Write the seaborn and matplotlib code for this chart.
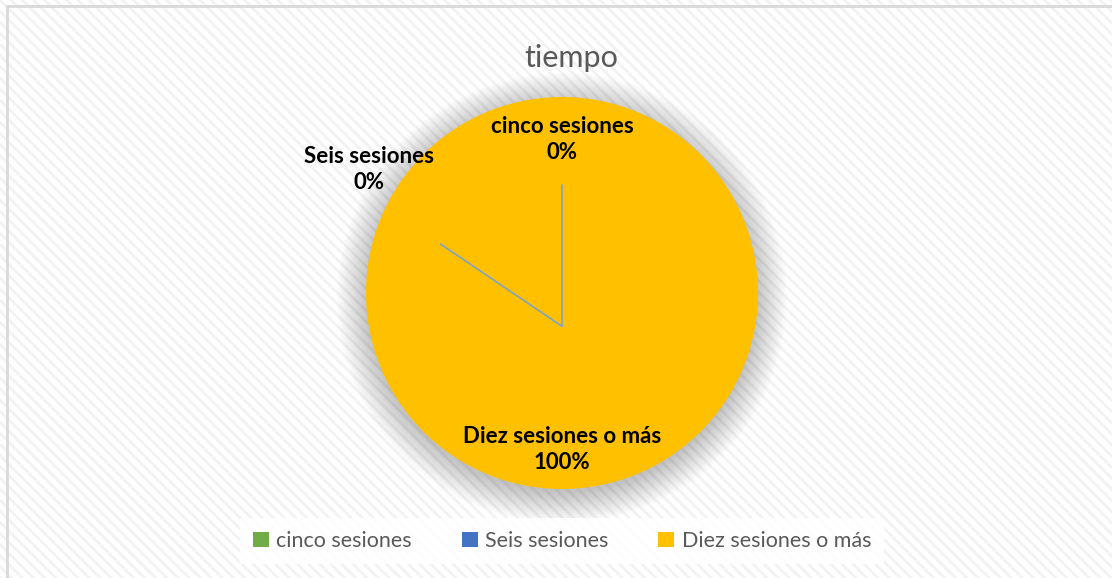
import matplotlib
matplotlib.use("Agg")
import matplotlib.pyplot as plt
from matplotlib.patches import Rectangle, Circle, Patch
import seaborn as sns

# Chart data
categories = ["cinco sesiones", "Seis sesiones", "Diez sesiones o más"]
values = [0, 0, 100]
colors = ["#70AD47", "#4472C4", "#FFC000"]
title = "tiempo"

sns.set_theme(style="white")
plt.rcParams["font.family"] = ["Lato", "DejaVu Sans"]
plt.rcParams["hatch.linewidth"] = 2.0

fig = plt.figure(figsize=(11.12, 5.78), dpi=100)

# hatched chart-area background with thin gray frame (top/left visible)
bg = Rectangle((0, 0), 1, 1, transform=fig.transFigure, facecolor="white",
               edgecolor="#f2f2f2", hatch="\\\\\\", linewidth=0, zorder=-10)
fig.patches.append(bg)
frame = Rectangle((7 / 1112, -0.1), 1.2, 1 - 6 / 578 + 0.1, transform=fig.transFigure,
                  facecolor="none", edgecolor="#d9d9d9", linewidth=2, zorder=-5)
fig.patches.append(frame)

# pie axes: center (562, 293), radius 196 px
r_px = 196
ax = fig.add_axes([(562 - r_px) / 1112, (578 - 293 - r_px) / 578,
                   2 * r_px / 1112, 2 * r_px / 578])

# soft shadow
for k in range(30):
    ax.add_patch(Circle((0, -0.025), 0.99 + 0.0055 * k, facecolor="#808080",
                        alpha=0.016, edgecolor="none", zorder=0, clip_on=False))

wedges, _ = ax.pie(values, colors=colors, startangle=90, counterclock=False,
                   radius=1, wedgeprops=dict(linewidth=0))
for w in wedges:
    w.set_zorder(2)
ax.set_xlim(-1, 1)
ax.set_ylim(-1, 1)
ax.set_aspect("equal")
ax.axis("off")
ax.patch.set_alpha(0)

# leader lines
lc = "#7fa3c8"
ax.plot([0, 0], [-0.17, 0.55], color=lc, lw=1.2, zorder=3, clip_on=False)
ax.plot([0, -0.62], [-0.17, 0.25], color=lc, lw=1.2, zorder=3, clip_on=False)

# data labels
pct = [f"{v / sum(values) * 100:.0f}%" for v in values]
label_pos = [(0.0, 0.785), (-0.985, 0.63), (0.0, -0.80)]
for cat, p, (x, y) in zip(categories, pct, label_pos):
    ax.text(x, y, f"{cat}\n{p}", ha="center", va="center", fontsize=16,
            fontweight="bold", color="black", linespacing=1.28, zorder=4,
            clip_on=False)

# title
fig.text(571 / 1112, 1 - 58 / 578, title, ha="center", va="center",
         fontsize=22, color="#595959")

# legend
handles = [Patch(facecolor=c, edgecolor="none") for c in colors]
leg = fig.legend(handles, categories, loc="center", ncol=3,
                 bbox_to_anchor=(562 / 1112, 1 - 541 / 578), frameon=True,
                 fontsize=15.5, handlelength=0.75, handleheight=0.75,
                 handletextpad=0.35, columnspacing=2.3, borderpad=0.6)
leg.get_frame().set_facecolor("white")
leg.get_frame().set_alpha(0.85)
leg.get_frame().set_edgecolor("none")
leg.get_frame().set_boxstyle("square", pad=0)
for t in leg.get_texts():
    t.set_color("#595959")

fig.savefig("out.png", dpi=100)
